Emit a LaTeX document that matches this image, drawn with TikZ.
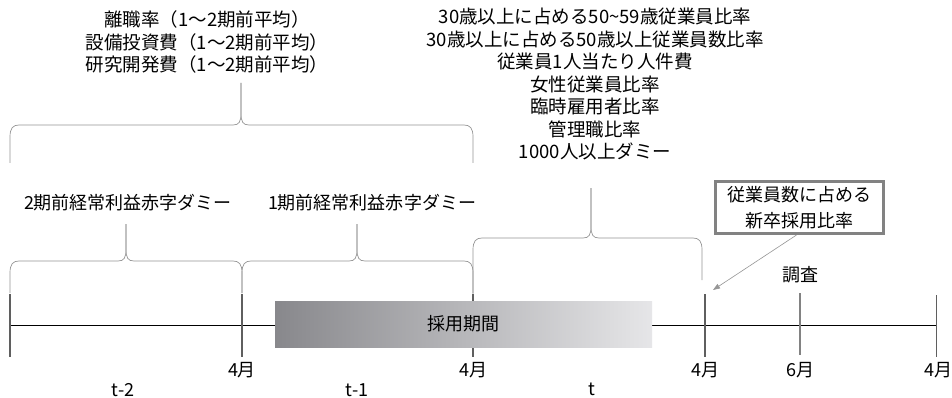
\documentclass[tikz,border=0pt]{standalone}
\usepackage{fontspec}
\setmainfont{Noto Sans CJK JP}
\usetikzlibrary{arrows.meta}
\definecolor{tickdark}{RGB}{95,95,95}
\definecolor{ticklight}{RGB}{130,130,130}
\definecolor{bracecol}{RGB}{150,150,150}
\definecolor{boxcol}{RGB}{130,130,130}
\definecolor{gradL}{RGB}{136,136,140}
\definecolor{gradR}{RGB}{230,230,232}
\newcommand\mybrace[7]{% x0 x1 xt yendL yendR ybar ytip
  \draw[bracestyle] (#1,#4) -- (#1,#6+12) .. controls (#1,#6+3) and (#1+3,#6) .. (#1+9,#6) -- (#3-8,#6) .. controls (#3-2,#6) and (#3,#6-3) .. (#3,#6-12) -- (#3,#7);
  \draw[bracestyle] (#3,#7) -- (#3,#6-12) .. controls (#3,#6-3) and (#3+2,#6) .. (#3+8,#6) -- (#2-9,#6) .. controls (#2-3,#6) and (#2,#6+3) .. (#2,#6+12) -- (#2,#5);
}
\begin{document}
\begin{tikzpicture}[x=1pt,y=-1pt,
  bracestyle/.style={draw=bracecol,line width=0.7pt},
  lbl/.style={inner sep=0pt,font=\fontsize{18}{22}\selectfont},
  block/.style={inner sep=0pt,align=center,font=\fontsize{18.5}{22.5}\selectfont},
  tickstyle/.style={draw=tickdark,line width=1.8pt}]
\useasboundingbox[fill=white] (0,0) rectangle (952,398);

% braces
\mybrace{10}{242}{126}{293}{293}{261}{224}
\mybrace{242}{473}{357}{293}{293}{261}{224}
\mybrace{473}{702}{591}{294}{280}{238}{188}
\mybrace{10}{473}{241}{163}{163}{125}{83}

% timeline
\draw[black,line width=0.8pt] (10,325) -- (936,325);
\draw[tickstyle] (10,294) -- (10,357);
\draw[tickstyle] (242,294) -- (242,357);
\draw[tickstyle] (473,294) -- (473,357);
\draw[tickstyle] (705,294) -- (705,357);
\draw[draw=ticklight,line width=1.8pt] (800,293) -- (800,355);
\draw[draw=tickdark,line width=0.9pt] (936,295) -- (936,357);

% gradient box (on top of the timeline)
\shade[left color=gradL,right color=gradR] (275,301) rectangle (652,347);
\node[lbl] (period) at (463,324) {採用期間};

% month labels
\node[lbl] (m1) at (242,370) {4月};
\node[lbl] (m2) at (473,370) {4月};
\node[lbl] (m3) at (705,370) {4月};
\node[lbl] (m4) at (800,370) {6月};
\node[lbl] (m5) at (938,370) {4月};

% period labels
\node[lbl] (t2) at (123,390) {t-2};
\node[lbl] (t1) at (357,390) {t-1};
\node[lbl] (t0) at (592,389) {t};

% text blocks
\node[block] (avg) at (207,42) {離職率（1～2期前平均）\\設備投資費（1～2期前平均）\\研究開発費（1～2期前平均）};
\node[block] (vars) at (595,84) {30歳以上に占める50\string~59歳従業員比率\\30歳以上に占める50歳以上従業員数比率\\従業員1人当たり人件費\\女性従業員比率\\臨時雇用者比率\\管理職比率\\1000人以上ダミー};
\node[lbl] (d2) at (128,203) {2期前経常利益赤字ダミー};
\node[lbl] (d1) at (372,203) {1期前経常利益赤字ダミー};
\node[lbl] (survey) at (800,275) {調査};

% new graduate box
\node[draw=boxcol,line width=3pt,fill=white,align=center,inner sep=0pt,
  minimum width=168pt,minimum height=52pt,font=\fontsize{18}{26}\selectfont]
  (newgrad) at (799.5,207.5) {従業員数に占める\\新卒採用比率};
\coordinate (arrowend) at (713,290);
\draw[draw=bracecol,line width=0.6pt,-{Triangle[length=7pt,width=5pt,fill=bracecol]}] (newgrad.south) ++(-3,0) coordinate (as) (as) -- (arrowend);
\end{tikzpicture}
\end{document}
